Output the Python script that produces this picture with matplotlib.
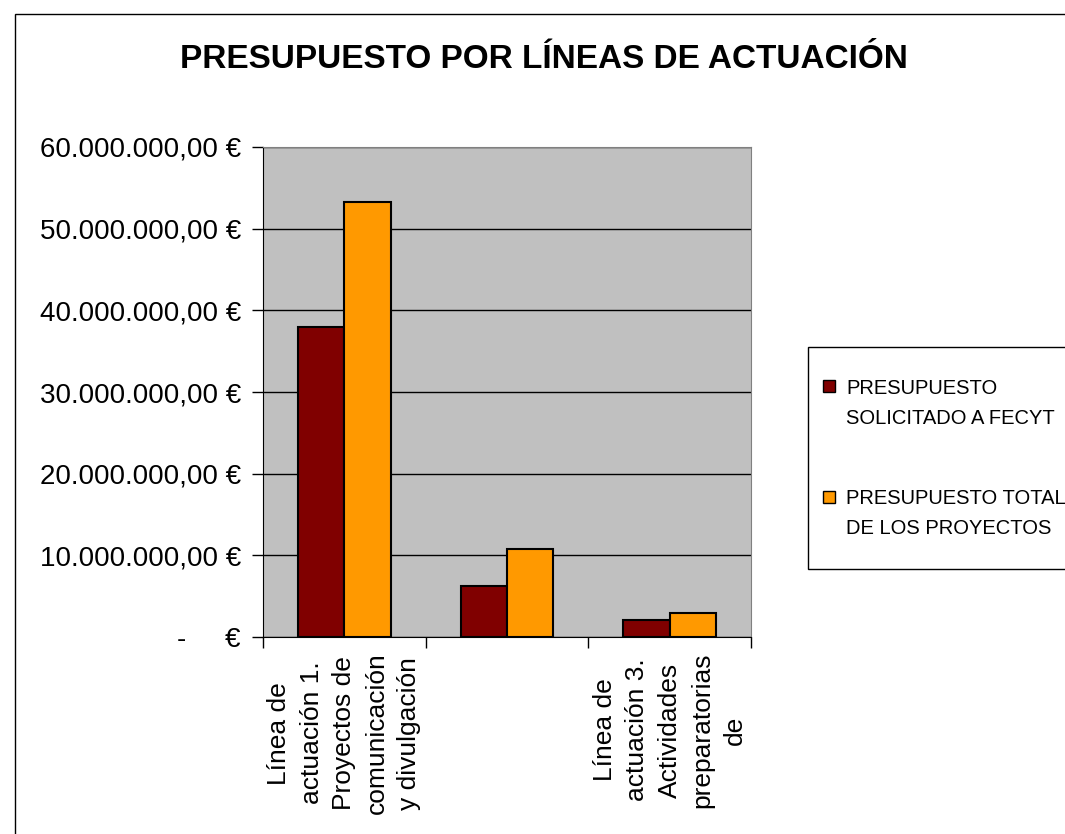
import matplotlib.pyplot as plt
from matplotlib.patches import Rectangle
from matplotlib.ticker import FuncFormatter, MultipleLocator

plt.rcParams['font.family'] = ['Liberation Sans', 'DejaVu Sans']

# data
categorias = ["Línea de\nactuación 1.\nProyectos de\ncomunicación\ny divulgación",
              "",
              "Línea de\nactuación 3.\nActividades\npreparatorias\nde"]
solicitado = [37900000, 6300000, 2100000]
total = [53300000, 10800000, 2900000]
series = ["PRESUPUESTO\nSOLICITADO A FECYT", "PRESUPUESTO TOTAL\nDE LOS PROYECTOS"]
colores = ["#800000", "#FF9900"]

W, H = 1065, 834
fig = plt.figure(figsize=(W / 100, H / 100), dpi=100)
# chart area border (runs off right and bottom)
fig.patches.append(Rectangle((15 / W, -0.1), 1.2, 1 - 14 / H + 0.1, transform=fig.transFigure,
                             fill=False, edgecolor='black', linewidth=1))

ax = fig.add_axes([263 / W, 1 - 637 / H, 488 / W, 490 / H])
ax.set_facecolor('#C0C0C0')

x = [1, 2, 3]
w = 0.285
b1 = ax.bar([i - w / 2 for i in x], solicitado, w, color=colores[0], edgecolor='black', linewidth=1.5,
            label=series[0], zorder=3)
b2 = ax.bar([i + w / 2 for i in x], total, w, color=colores[1], edgecolor='black', linewidth=1.5,
            label=series[1], zorder=3)

ax.set_xlim(0.5, 3.5)
ax.set_ylim(0, 60000000)
ax.yaxis.set_major_locator(MultipleLocator(10000000))
ax.grid(axis='y', color='black', linewidth=1, zorder=1)


def euro(v, pos):
    if v == 0:
        return "-     €"
    s = "{:,.2f}".format(v).replace(",", "X").replace(".", ",").replace("X", ".")
    return s + " €"


ax.yaxis.set_major_formatter(FuncFormatter(euro))
ax.tick_params(axis='y', labelsize=20, length=8, width=1, direction='out', pad=8)

ax.set_xticks(x)
ax.set_xticklabels(categorias, rotation=90, fontsize=19, multialignment='center', va='top',
                   linespacing=1.45)
ax.set_xticks([0.5, 1.5, 2.5, 3.5], minor=True)
ax.tick_params(axis='x', which='major', length=0, pad=11)
ax.tick_params(axis='x', which='minor', length=8, width=1, direction='out')

for s in ['top', 'right']:
    ax.spines[s].set_color('#808080')
for s in ['left', 'bottom']:
    ax.spines[s].set_color('black')

fig.text(544 / W, 1 - 60 / H, "PRESUPUESTO POR LÍNEAS DE ACTUACIÓN", ha='center', va='center',
         fontsize=24, fontweight='bold')

# legend (box runs off the right edge, as in the original)
fig.patches.append(Rectangle((808 / W, 1 - 569 / H), 0.5, 222 / H, transform=fig.transFigure,
                             facecolor='white', edgecolor='black', linewidth=1))
for k, (lab, col) in enumerate(zip(series, colores)):
    yline = 386.5 + k * 110.5
    fig.patches.append(Rectangle((823 / W, 1 - (yline + 6) / H), 12 / W, 12 / H,
                                 transform=fig.transFigure, facecolor=col, edgecolor='black',
                                 linewidth=1))
    fig.text(846 / W, 1 - (yline - 7.5) / H, lab, ha='left', va='top', fontsize=14.5,
             linespacing=1.7)

fig.savefig("out.png", dpi=100)
